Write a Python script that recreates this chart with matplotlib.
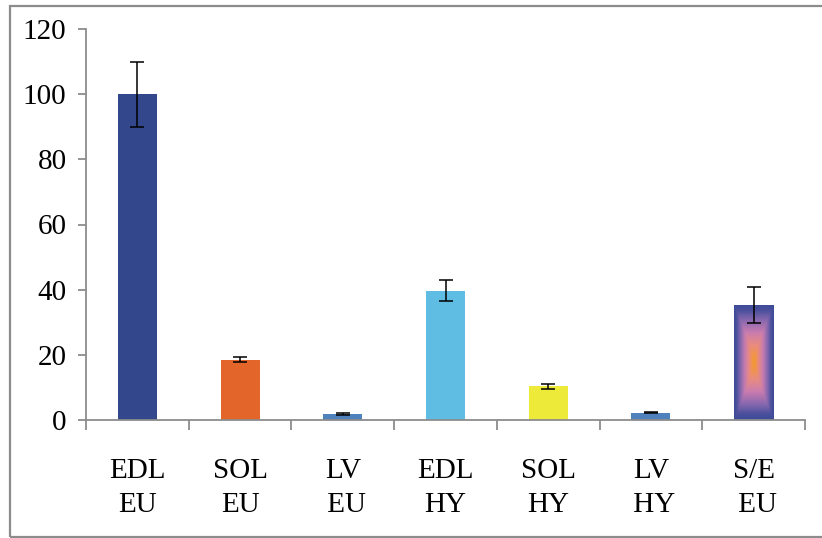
import numpy as np
import matplotlib
matplotlib.use("Agg")
import matplotlib.pyplot as plt
from matplotlib.colors import LinearSegmentedColormap
from matplotlib.patches import Rectangle

# Data
categories = ["EDL\nEU", "SOL\nEU", "LV\n EU", "EDL\nHY", "SOL\nHY", "LV\n HY", "S/E\n EU"]
values = [100.0, 18.5, 1.8, 39.7, 10.4, 2.3, 35.4]
errors = [10.0, 0.8, 0.2, 3.2, 0.8, 0.3, 5.5]
bar_colors = ["#33478C", "#E3652A", "#4F81BD", "#5FBDE4", "#EEEA3A", "#4F81BD", None]
y_ticks = [0, 20, 40, 60, 80, 100, 120]

plt.rcParams["font.family"] = ["Liberation Serif", "DejaVu Serif"]

fig = plt.figure(figsize=(8.22, 5.38), dpi=100)
ax = fig.add_axes([86 / 822, 1 - 420 / 538, (805 - 86) / 822, (420 - 29) / 538])

x = np.arange(len(categories))
width = 0.38
bars = ax.bar(x, values, width=width,
              color=[c if c else "none" for c in bar_colors],
              edgecolor="none", zorder=2)

# Rectangular centre-out gradient for the combined bar
grad_cmap = LinearSegmentedColormap.from_list(
    "path_grad",
    [(0.0, "#F59A28"), (0.22, "#EA8C7E"), (0.45, "#C97CB0"),
     (0.7, "#8266AE"), (0.88, "#4A509C"), (1.0, "#3D4B96")])
for i, c in enumerate(bar_colors):
    if c is None:
        b = bars[i]
        x0, y0 = b.get_x(), b.get_y()
        w, h = b.get_width(), b.get_height()
        u = np.linspace(-1, 1, 80)
        v = np.linspace(-1, 1, 200)
        U, V = np.meshgrid(u, v)
        T = np.maximum(np.abs(U), np.abs(V) ** 1.2)
        im = ax.imshow(T, cmap=grad_cmap, vmin=0, vmax=1, aspect="auto",
                       extent=[x0, x0 + w, y0, y0 + h], origin="lower",
                       interpolation="bicubic", zorder=2)
        im.set_clip_path(b)

ax.errorbar(x, values, yerr=errors, fmt="none", ecolor="black",
            elinewidth=1.1, capsize=5, capthick=1.1, zorder=3)

ax.set_xlim(-0.5, len(categories) - 0.5)
ax.set_ylim(0, 120)
ax.set_yticks(y_ticks)
ax.set_xticks(x)
ax.set_xticklabels(categories, fontsize=21, linespacing=1.45)
ax.set_xticks(np.arange(len(categories) + 1) - 0.5, minor=True)

spine_color = "#8C8C8C"
for side in ["top", "right"]:
    ax.spines[side].set_visible(False)
for side in ["left", "bottom"]:
    ax.spines[side].set_color(spine_color)
    ax.spines[side].set_linewidth(1.3)

ax.tick_params(axis="y", direction="out", length=6, width=1.3,
               color=spine_color, labelsize=21, pad=8)
ax.tick_params(axis="x", which="major", length=0, pad=27)
ax.tick_params(axis="x", which="minor", direction="out", length=7,
               width=1.3, color=spine_color)

# Grey frame around the chart area
fig.patches.append(Rectangle((9.5 / 822, 1 - 537 / 538), 1.0, (537 - 6) / 538,
                             transform=fig.transFigure, fill=False,
                             edgecolor="#8C8C8C", linewidth=1.6))

fig.savefig("out.png", dpi=100)
